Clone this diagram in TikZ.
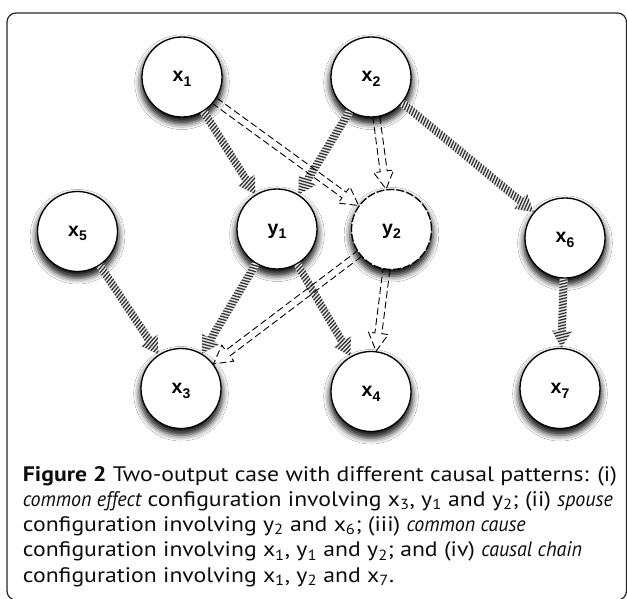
\documentclass[tikz,border=0pt]{standalone}
\usepackage{graphicx}
\usepackage{fontspec}
\setmainfont{PT Sans}
\newfontfamily\labfont{Liberation Sans}
\usetikzlibrary{calc,shadows.blur}

\newcommand\lab[2]{{\labfont\bfseries\fontsize{19.5}{19.5}\selectfont #1\raisebox{-4.5pt}{\fontsize{14}{14}\selectfont #2}}}

\newcommand\capfont{\fontsize{21}{21}\selectfont}
\newsavebox\cmeasbox
\newsavebox\cmeasboxb
\newsavebox\clinebox
\newlength\cmeaslen
\newlength\cmeaslenb
\newcommand\capfactors{%
 \sbox\cmeasbox{\capfont\bfseries Figure 2\mdseries\ Two-output case with different causal patterns: (i)}%
 \setlength\cmeaslen{\wd\cmeasbox}%
 \pgfmathsetmacro\facR{594pt/\cmeaslen}%
 \sbox\cmeasbox{\capfont\ configuration involving x\textsubscript{3}, y\textsubscript{1} and y\textsubscript{2}; (ii)\ }%
 \setlength\cmeaslen{\wd\cmeasbox}%
 \sbox\cmeasboxb{\capfont\itshape common effectspouse}%
 \setlength\cmeaslenb{\wd\cmeasboxb}%
 \pgfmathsetmacro\facI{(590pt-\facR*\cmeaslen)/\cmeaslenb}%
}
\newcommand\capR[1]{\scalebox{\facR}[1]{\capfont #1}}
\newcommand\capI[1]{\scalebox{\facI}[1]{\capfont\itshape #1}}
\newcommand\capB[1]{\scalebox{\facR}[1]{\capfont\bfseries #1}}
\newcommand\capline[1]{\sbox\clinebox{#1}\ifdim\wd\clinebox>600pt\resizebox{600pt}{\height}{\usebox\clinebox}\else\usebox\clinebox\fi}

\tikzset{
 circ/.style={circle, draw=black, line width=1.3pt, fill=white, minimum size=80pt, inner sep=0pt,
   text height=10pt, text depth=0pt,
   blur shadow={shadow xshift=0pt, shadow yshift=-5pt, shadow scale=1.04, shadow blur radius=5.5pt, shadow opacity=90}},
 dcirc/.style={circ, dash pattern=on 8pt off 2pt},
 hatchbg/.style={draw=black!10, line width=30pt},
 hatchline/.style={draw=black!80, line width=1.25pt},
 dasharrowline/.style={draw=black, line width=0.9pt, dash pattern=on 7pt off 3.5pt, line join=miter},
 frame/.style={draw=black!85, line width=1.2pt, rounded corners=9pt},
 captxt/.style={anchor=base west, inner sep=0pt, text=black!95}
}

\newcommand\htcharr[2]{%
 \path (#1) -- (#2) coordinate[pos=0] (s) coordinate[pos=1] (e);
 \coordinate (hb) at ($(e)!17pt!(s)$);
 \pgfmathanglebetweenpoints{\pgfpointanchor{s}{center}}{\pgfpointanchor{e}{center}}%
 \let\arrang\pgfmathresult
 \pgfpointdiff{\pgfpointanchor{s}{center}}{\pgfpointanchor{e}{center}}%
 \pgfgetlastxy{\arrdx}{\arrdy}%
 \pgfmathsetmacro\arrlen{veclen(\arrdx,\arrdy)}%
 \begin{scope}
  \clip ($(s)!4pt!90:(e)$) -- ($(hb)!4pt!90:(e)$) -- ($(hb)!10pt!90:(e)$) -- (e) -- ($(hb)!10pt!-90:(e)$) -- ($(hb)!4pt!-90:(e)$) -- ($(s)!4pt!-90:(e)$) -- cycle;
  \path[hatchbg] (s) -- (e);
  \begin{scope}[shift={(s)}, rotate=\arrang]
   \foreach \t in {-14,-11,...,\arrlen} \path[hatchline] (\t,-14) -- ++(8,28);
  \end{scope}
 \end{scope}
}

\newcommand\dsharr[2]{%
 \path (#1) -- (#2) coordinate[pos=0] (s) coordinate[pos=1] (e);
 \coordinate (hb) at ($(e)!18pt!(s)$);
 \path[dasharrowline] ($(s)!3.5pt!90:(e)$) -- ($(hb)!3.5pt!90:(e)$) -- ($(hb)!10pt!90:(e)$) -- (e) -- ($(hb)!10pt!-90:(e)$) -- ($(hb)!3.5pt!-90:(e)$) -- ($(s)!3.5pt!-90:(e)$);
}

\begin{document}
\capfactors
\begin{tikzpicture}[x=1pt,y=-1pt]
\useasboundingbox (0,0) rectangle (627,599);
\fill[white] (0,0) rectangle (627,599);
\draw[frame] (7,13) rectangle (626.5,600);

\node[circ]  (x1) at (182,77)     {\lab{x}{1}};
\node[circ]  (x2) at (371,77)     {\lab{x}{2}};
\node[circ]  (x5) at (77.5,231.5) {\lab{x}{5}};
\node[circ]  (y1) at (277,229)    {\lab{y}{1}};
\node[dcirc] (y2) at (391.5,229.5){\lab{y}{2}};
\node[circ]  (x6) at (565,238)    {\lab{x}{6}};
\node[circ]  (x3) at (181,388.5)  {\lab{x}{3}};
\node[circ]  (x4) at (371,391.5)  {\lab{x}{4}};
\node[circ]  (x7) at (560,388.5)  {\lab{x}{7}};

\htcharr{x1}{y1}
\htcharr{x2}{y1}
\htcharr{x2}{x6}
\htcharr{x5}{x3}
\htcharr{y1}{x3}
\htcharr{y1}{x4}
\htcharr{x6}{x7}

\dsharr{x1}{y2}
\dsharr{x2}{y2}
\dsharr{y2}{x3}
\dsharr{y2}{x4}

\node[captxt] (c1) at (22.7,481)   {\capline{\capB{Figure 2}\capR{\ Two-output case with different causal patterns: (i)}}};
\node[captxt] (c2) at (22.7,506.3) {\capline{\capI{common effect}\capR{\ configuration involving x\textsubscript{3}, y\textsubscript{1} and y\textsubscript{2}; (ii)\ }\capI{spouse}}};
\node[captxt] (c3) at (22.7,531.6) {\capline{\capR{configuration involving y\textsubscript{2} and x\textsubscript{6}; (iii)\ }\capI{common cause}}};
\node[captxt] (c4) at (22.7,556.9) {\capline{\capR{configuration involving x\textsubscript{1}, y\textsubscript{1} and y\textsubscript{2}; and (iv)\ }\capI{causal chain}}};
\node[captxt] (c5) at (22.7,582.2) {\capline{\capR{configuration involving x\textsubscript{1}, y\textsubscript{2} and x\textsubscript{7}.}}};
\end{tikzpicture}
\end{document}
